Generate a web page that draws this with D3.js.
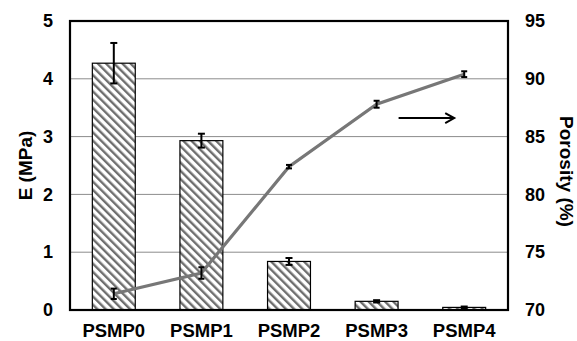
<!DOCTYPE html>
<html>
  <head>
    <meta charset="UTF-8" />
    <style>
      body { margin: 0; background: #fff; font-family: Arial, "Liberation Sans", sans-serif; }
      .tick text { font-weight: bold; font-size: 18px; fill: #000; }
    </style>
  </head>
  <body>
    <div id="chart"></div>
    <script src="https://d3js.org/d3.v7.min.js"></script>
    <script>
      const categories = ["PSMP0", "PSMP1", "PSMP2", "PSMP3", "PSMP4"];
      const modulus = [4.27, 2.93, 0.84, 0.15, 0.045];
      const modulusErr = [0.35, 0.12, 0.06, 0.02, 0.015];
      const porosity = [71.4, 73.2, 82.4, 87.8, 90.4];
      const porosityErr = [0.45, 0.5, 0.15, 0.3, 0.25];
      const leftTicks = [0, 1, 2, 3, 4, 5];
      const rightTicks = [70, 75, 80, 85, 90, 95];

      const width = 577, height = 341;
      const margin = { top: 21, right: 69, bottom: 31, left: 70 };
      const iw = width - margin.left - margin.right;
      const ih = height - margin.top - margin.bottom;

      const svg = d3.select("#chart").append("svg")
        .attr("width", width).attr("height", height);

      const defs = svg.append("defs");
      const pat = defs.append("pattern")
        .attr("id", "hatch")
        .attr("patternUnits", "userSpaceOnUse")
        .attr("width", 5.8).attr("height", 5.8)
        .attr("patternTransform", "rotate(-45)");
      pat.append("rect").attr("width", 5.8).attr("height", 5.8).attr("fill", "#fff");
      pat.append("rect").attr("x", 0).attr("width", 2.4).attr("height", 5.8).attr("fill", "#6e6e6e");

      const g = svg.append("g").attr("transform", `translate(${margin.left},${margin.top})`);

      const x = d3.scaleBand().domain(categories).range([0, iw])
        .paddingInner(0.51).paddingOuter(0.255);
      const y = d3.scaleLinear().domain([0, 5]).range([ih, 0]);
      const y2 = d3.scaleLinear().domain([70, 95]).range([ih, 0]);
      const cx = c => x(c) + x.bandwidth() / 2;

      // gridlines
      g.selectAll(".grid").data(leftTicks.slice(1, -1)).enter().append("line")
        .attr("x1", 0).attr("x2", iw)
        .attr("y1", d => y(d)).attr("y2", d => y(d))
        .attr("stroke", "#8c8c8c").attr("stroke-width", 1);

      // bars
      g.selectAll(".bar").data(modulus).enter().append("rect")
        .attr("x", (d, i) => x(categories[i]))
        .attr("y", d => y(d))
        .attr("width", x.bandwidth())
        .attr("height", d => ih - y(d))
        .attr("fill", "url(#hatch)")
        .attr("stroke", "#000").attr("stroke-width", 1.2);

      function errBars(vals, errs, scale, cap) {
        vals.forEach((v, i) => {
          const px = cx(categories[i]);
          const y1 = scale(v + errs[i]), y0 = scale(v - errs[i]);
          const eg = g.append("g").attr("stroke", "#000").attr("stroke-width", 2);
          eg.append("line").attr("x1", px).attr("x2", px).attr("y1", y1).attr("y2", y0);
          eg.append("line").attr("x1", px - cap).attr("x2", px + cap).attr("y1", y1).attr("y2", y1);
          eg.append("line").attr("x1", px - cap).attr("x2", px + cap).attr("y1", y0).attr("y2", y0);
        });
      }
      errBars(modulus, modulusErr, y, 3.5);

      // porosity line
      const line = d3.line()
        .x((d, i) => cx(categories[i]))
        .y(d => y2(d));
      g.append("path").datum(porosity)
        .attr("d", line)
        .attr("fill", "none")
        .attr("stroke", "#777").attr("stroke-width", 3.2);
      errBars(porosity, porosityErr, y2, 3);

      // arrow pointing to the right axis
      const ax0 = cx("PSMP3") + 22;
      const ax1 = cx("PSMP4") - 10;
      const ay = y2(86.6);
      g.append("line").attr("x1", ax0).attr("x2", ax1).attr("y1", ay).attr("y2", ay)
        .attr("stroke", "#000").attr("stroke-width", 2);
      g.append("path")
        .attr("d", `M${ax1 - 9},${ay - 5}L${ax1},${ay}L${ax1 - 9},${ay + 5}`)
        .attr("fill", "none").attr("stroke", "#000").attr("stroke-width", 2);

      // frame
      g.append("rect").attr("width", iw).attr("height", ih)
        .attr("fill", "none").attr("stroke", "#000").attr("stroke-width", 2.2);

      // axes
      const left = g.append("g")
        .call(d3.axisLeft(y).tickValues(leftTicks).tickSize(0).tickPadding(17).tickFormat(d3.format("d")));
      left.select(".domain").remove();
      const right = g.append("g").attr("transform", `translate(${iw},0)`)
        .call(d3.axisRight(y2).tickValues(rightTicks).tickSize(0).tickPadding(17).tickFormat(d3.format("d")));
      right.select(".domain").remove();
      const bottom = g.append("g").attr("transform", `translate(0,${ih})`)
        .call(d3.axisBottom(x).tickSize(0).tickPadding(14));
      bottom.select(".domain").remove();
      bottom.selectAll("text").style("font-size", "18.5px");

      // axis titles
      svg.append("text")
        .attr("transform", `translate(32,${margin.top + ih / 2}) rotate(-90)`)
        .attr("text-anchor", "middle")
        .style("font-weight", "bold").style("font-size", "19px")
        .text("E (MPa)");
      svg.append("text")
        .attr("transform", `translate(560,${margin.top + ih / 2 + 6}) rotate(90)`)
        .attr("text-anchor", "middle")
        .style("font-weight", "bold").style("font-size", "19px")
        .text("Porosity (%)");
    </script>
  </body>
</html>
